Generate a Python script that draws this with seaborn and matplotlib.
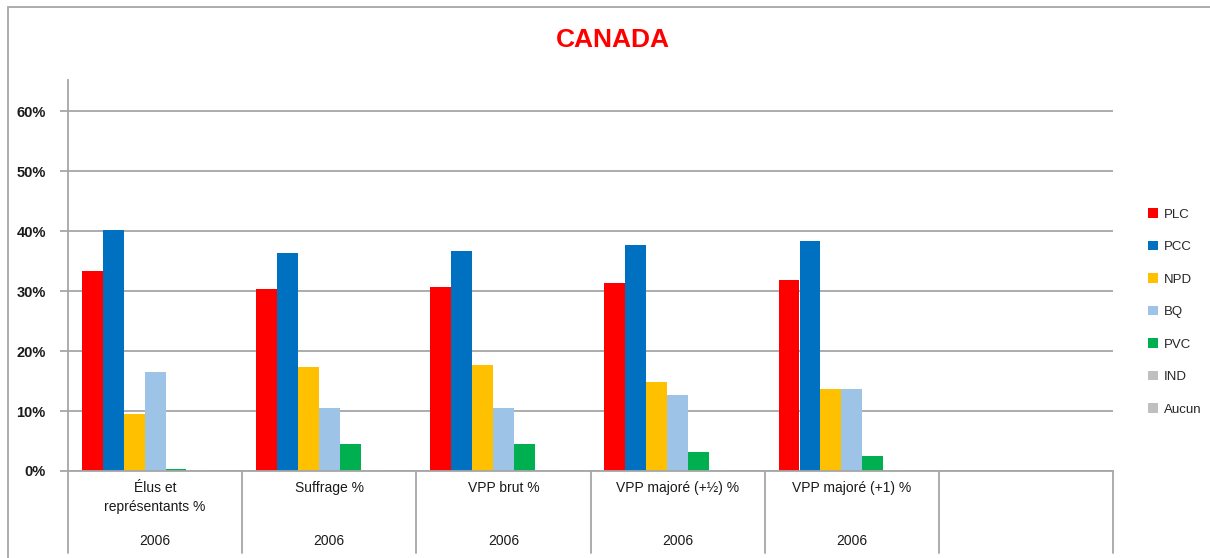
import matplotlib
matplotlib.use("Agg")
import matplotlib.pyplot as plt
import seaborn as sns
import pandas as pd
from matplotlib.patches import Rectangle
from matplotlib.lines import Line2D
from matplotlib.ticker import PercentFormatter

# ---- data ----
categories = ["Élus et\nreprésentants %", "Suffrage %", "VPP brut %",
              "VPP majoré (+½) %", "VPP majoré (+1) %", ""]
years = ["2006", "2006", "2006", "2006", "2006", ""]
parties = ["PLC", "PCC", "NPD", "BQ", "PVC", "IND", "Aucun"]
PLC = [0.334, 0.303, 0.306, 0.314, 0.319]
PCC = [0.401, 0.363, 0.366, 0.377, 0.383]
NPD = [0.095, 0.174, 0.176, 0.149, 0.136]
BQ = [0.165, 0.105, 0.105, 0.126, 0.136]
PVC = [0.003, 0.045, 0.045, 0.032, 0.025]
IND = [0.002, 0.002, 0.002, 0.002, 0.002]
Aucun = [0.0, 0.0, 0.0, 0.0, 0.0]
colors = ["#FF0000", "#0070C0", "#FFC000", "#9DC3E6", "#00B050", "#BFBFBF", "#BFBFBF"]

series = {"PLC": PLC, "PCC": PCC, "NPD": NPD, "BQ": BQ, "PVC": PVC, "IND": IND, "Aucun": Aucun}
rows = []
for p in parties:
    for c, v in zip(categories[:5], series[p]):
        rows.append({"cat": c, "party": p, "val": v})
df = pd.DataFrame(rows)

sns.set_theme(style="white")
plt.rcParams["font.family"] = ["Liberation Sans", "DejaVu Sans"]

W, H = 1210, 558
fig = plt.figure(figsize=(W / 100, H / 100), dpi=100)
fig.patch.set_facecolor("white")

ax = fig.add_axes([68 / W, (H - 471) / H, (1113 - 68) / W, (471 - 80) / H])
sns.barplot(data=df, x="cat", y="val", hue="party", order=categories, hue_order=parties,
            palette=colors, saturation=1, width=0.84, linewidth=0, errorbar=None,
            ax=ax, legend=True)

ax.set_xlim(-0.5, len(categories) - 0.5)
ax.set_ylim(0, 0.6517)
ax.set_yticks([0, 0.1, 0.2, 0.3, 0.4, 0.5, 0.6])
ax.yaxis.set_major_formatter(PercentFormatter(1.0, decimals=0))
ax.yaxis.grid(True, color="#A6A6A6", linewidth=1.3)
ax.set_axisbelow(True)
for s in ["top", "right"]:
    ax.spines[s].set_visible(False)
for s in ["left", "bottom"]:
    ax.spines[s].set_color("#A6A6A6")
    ax.spines[s].set_linewidth(1.3)
ax.tick_params(axis="y", which="both", left=True, length=6, width=1.3, color="#A6A6A6",
               labelsize=10.5, pad=10, labelcolor="#1a1a1a")
for t in ax.get_yticklabels():
    t.set_fontweight("bold")
ax.set_xticks([])
ax.set_xlabel("")
ax.set_ylabel("")

# category table below the axis
def ay(p):
    return (471 - p) / (471 - 80)

trans = ax.get_xaxis_transform()
for k in range(len(categories) + 1):
    xb = -0.5 + k
    ax.add_line(Line2D([xb, xb], [0, ay(553)], transform=trans, color="#A6A6A6",
                       linewidth=1.3, clip_on=False))
for i, (c, yr) in enumerate(zip(categories, years)):
    ax.text(i, ay(481), c, transform=trans, ha="center", va="top", fontsize=10,
            color="#1a1a1a", linespacing=1.45)
    ax.text(i, ay(541), yr, transform=trans, ha="center", va="center", fontsize=10,
            color="#1a1a1a")

# legend
handles, labels = ax.get_legend_handles_labels()
ax.legend(handles, labels, loc="center left", bbox_to_anchor=(1136 / W, (H - 312) / H),
          bbox_transform=fig.transFigure, frameon=False, fontsize=9.5,
          handlelength=0.75, handleheight=0.75, handletextpad=0.45, labelspacing=1.52)

# title
fig.text(613 / W, (H - 40) / H, "CANADA", ha="center", va="center", fontsize=19,
         fontweight="bold", color="#FF0000")

# outer chart border (right and bottom edges fall outside the image)
fig.patches.append(Rectangle((8 / W, -0.02), (1230 - 8) / W, (H - 7) / H + 0.02,
                             transform=fig.transFigure, fill=False, edgecolor="#A6A6A6",
                             linewidth=1.3))

fig.savefig("out.png", dpi=100)
